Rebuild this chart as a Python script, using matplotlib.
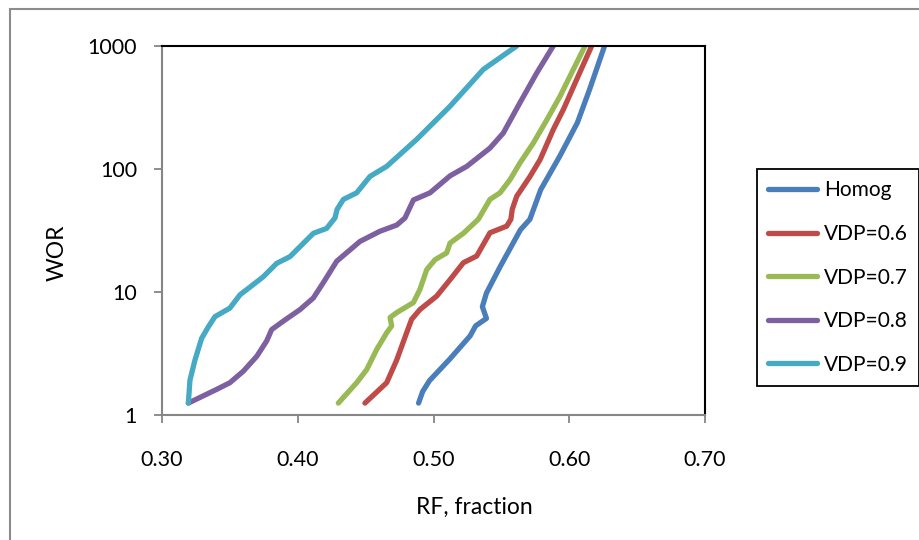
import matplotlib
matplotlib.use("Agg")
import matplotlib.pyplot as plt
from matplotlib.patches import Rectangle

plt.rcParams['font.family'] = ['Lato', 'DejaVu Sans']

# RF (fraction) vs WOR
homog_rf = [0.489, 0.492, 0.497, 0.512, 0.527, 0.531, 0.539, 0.536, 0.539, 0.549,
            0.564, 0.571, 0.579, 0.593, 0.606, 0.615, 0.626]
homog_wor = [1.25, 1.55, 1.9, 2.85, 4.4, 5.3, 6.1, 7.6, 9.8, 16,
             32, 39, 68, 127, 238, 444, 1000]

vdp06_rf = [0.4495, 0.4655, 0.4729, 0.4802, 0.4839, 0.490, 0.5023, 0.5122, 0.522, 0.5318,
            0.5416, 0.5539, 0.557, 0.558, 0.5613, 0.5711, 0.5785, 0.5883, 0.5957, 0.6055, 0.6165]
vdp06_wor = [1.25, 1.83, 2.8, 4.66, 6.0, 7.2, 9.25, 12.6, 17.3, 19.6,
             30.3, 34.3, 39, 47, 60, 87, 119, 210, 305, 535, 1000]

vdp07_rf = [0.4299, 0.4434, 0.4508, 0.4581, 0.4655, 0.4692, 0.468, 0.4729, 0.4852, 0.490,
            0.495, 0.5011, 0.5097, 0.5122, 0.522, 0.533, 0.5416, 0.549, 0.5564, 0.5637,
            0.5736, 0.5834, 0.5932, 0.603, 0.6116]
vdp07_wor = [1.25, 1.83, 2.34, 3.4, 4.66, 5.3, 6.2, 6.8, 8.2, 10.5,
             15.2, 18.3, 20.8, 25, 30, 39, 56.6, 64, 82, 112,
             163, 250, 390, 645, 1000]

vdp08_rf = [0.3194, 0.340, 0.350, 0.3599, 0.3698, 0.3771, 0.3808, 0.3894, 0.4017, 0.4115,
            0.4188, 0.4287, 0.4459, 0.4606, 0.4729, 0.479, 0.4852, 0.4974, 0.5122, 0.5245,
            0.5416, 0.5514, 0.5637, 0.576, 0.5882]
vdp08_wor = [1.25, 1.61, 1.83, 2.27, 3.0, 4.0, 4.95, 5.8, 7.2, 8.95,
             11.9, 17.8, 25.8, 31.2, 35, 40, 56, 64, 88, 105,
             148, 196, 346, 602, 1000]

vdp09_rf = [0.3194, 0.3206, 0.3243, 0.3292, 0.3341, 0.339, 0.350, 0.3575, 0.365, 0.3746,
            0.3845, 0.3943, 0.4017, 0.4115, 0.4213, 0.4274, 0.429, 0.4336, 0.4434, 0.4532,
            0.4655, 0.4876, 0.5122, 0.5367, 0.5613]
vdp09_wor = [1.25, 1.92, 2.8, 4.2, 5.2, 6.3, 7.4, 9.5, 11.0, 13.3,
             17.1, 19.4, 23.4, 30, 32.9, 40, 47, 56.6, 64, 87,
             105, 174, 324, 645, 1000]

labels = ['Homog', 'VDP=0.6', 'VDP=0.7', 'VDP=0.8', 'VDP=0.9']
colors = ['#4A7EBB', '#BE4B48', '#98B954', '#7D60A0', '#46AAC5']
series = [(homog_rf, homog_wor), (vdp06_rf, vdp06_wor), (vdp07_rf, vdp07_wor),
          (vdp08_rf, vdp08_wor), (vdp09_rf, vdp09_wor)]

W, H = 920, 540
fig = plt.figure(figsize=(W / 100, H / 100), dpi=100)

# outer chart border
fig.patches.append(Rectangle((10 / W, -0.05), 1.1, 1 - 9 / H + 0.05,
                             transform=fig.transFigure, fill=False,
                             edgecolor='#8c8c8c', linewidth=1.5))

ax = fig.add_axes([162 / W, 1 - 415 / H, (705 - 162) / W, (415 - 46) / H])

for (rf, wor), lab, c in zip(series, labels, colors):
    ax.plot(rf, wor, color=c, lw=3.8, label=lab, solid_capstyle='round',
            solid_joinstyle='round')

ax.set_yscale('log')
ax.set_ylim(1, 1000)
ax.set_xlim(0.30, 0.70)
ax.set_yticks([1, 10, 100, 1000])
ax.set_yticklabels(['1', '10', '100', '1000'])
ax.minorticks_off()
ax.set_xticks([0.30, 0.40, 0.50, 0.60, 0.70])
ax.set_xticklabels(['0.30', '0.40', '0.50', '0.60', '0.70'])

ax.tick_params(axis='both', direction='out', length=6, width=1.3,
               color='#868686', labelsize=15.5)
ax.tick_params(axis='x', pad=19)
ax.tick_params(axis='y', pad=12)

for side in ['top', 'right']:
    ax.spines[side].set_color('black')
    ax.spines[side].set_linewidth(1.5)
for side in ['left', 'bottom']:
    ax.spines[side].set_color('#868686')
    ax.spines[side].set_linewidth(1.5)

fig.text(474 / W, 1 - 507 / H, 'RF, fraction', ha='center', va='center', fontsize=16.5)
fig.text(57 / W, 1 - 253 / H, 'WOR', ha='center', va='center', rotation=90, fontsize=16.5)

leg = fig.legend(loc='upper left', bbox_to_anchor=(757 / W, 1 - 169 / H),
                 fontsize=15, handlelength=2.35, handletextpad=0.3,
                 borderpad=0.55, labelspacing=1.13, fancybox=False,
                 edgecolor='black', framealpha=1, borderaxespad=0)
leg.get_frame().set_linewidth(1.3)

fig.savefig('out.png', dpi=100)
